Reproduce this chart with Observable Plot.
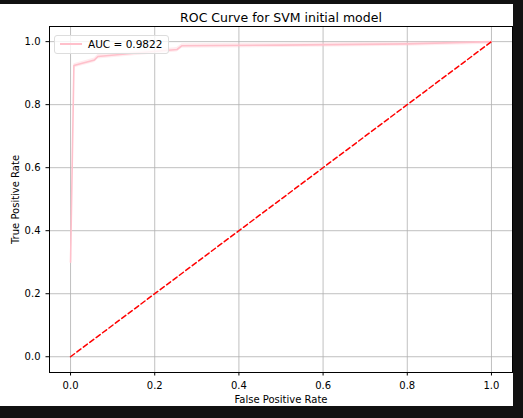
<!DOCTYPE html>
<html><head><meta charset="utf-8">
<script src="https://cdn.jsdelivr.net/npm/d3@7"></script>
<script src="https://cdn.jsdelivr.net/npm/@observablehq/plot@0.6"></script>
<style>
body{margin:0;background:#111;font-family:"DejaVu Sans",sans-serif;}
#wrap{position:relative;width:513px;height:406px;top:4px;background:#fff;}
#title{position:absolute;top:6px;left:49px;width:464px;text-align:center;font-size:12.5px;color:#000;}
#legend{position:absolute;left:54px;top:31px;border:1px solid #ddd;border-radius:3px;background:rgba(255,255,255,.8);font-size:10.5px;padding:2px 6px 3px 5px;display:flex;align-items:center;gap:6px;}
#legend span.l{display:inline-block;width:22px;height:2px;background:#ffc0cb;}
</style></head><body>
<div id="wrap"><div id="chart"></div><div id="title">ROC Curve for SVM initial model</div>
<div id="legend"><span class="l"></span><span>AUC = 0.9822</span></div></div>
<script>
const fpr = [0, 0.0, 0.008, 0.03, 0.057, 0.065, 0.15, 0.253, 0.265, 0.5, 0.8, 1.0];
const tpr = [0, 0.30, 0.924, 0.932, 0.942, 0.953, 0.963, 0.975, 0.987, 0.989, 0.993, 1.0];
const diag = [0, 1];
const roc = fpr.map((f, i) => ({f, t: tpr[i]})).slice(1);
const chart = Plot.plot({
  width: 513, height: 406,
  marginTop: 22, marginLeft: 49, marginRight: 1, marginBottom: 38,
  style: {fontFamily: "DejaVu Sans", fontSize: "10px", color: "#000", background: "#fff"},
  x: {domain: [-0.05, 1.05], ticks: [0, .2, .4, .6, .8, 1], tickFormat: d3.format(".1f"), tickSize: 3.5, label: "False Positive Rate", labelAnchor: "center", labelArrow: "none", labelOffset: 30},
  y: {domain: [-0.05, 1.048], ticks: [0, .2, .4, .6, .8, 1], tickFormat: d3.format(".1f"), tickSize: 3.5, label: "True Positive Rate", labelAnchor: "center", labelArrow: "none", labelOffset: 38},
  marks: [
    Plot.gridX([0, .2, .4, .6, .8, 1], {stroke: "#b0b0b0", strokeOpacity: 0.8}),
    Plot.gridY([0, .2, .4, .6, .8, 1], {stroke: "#b0b0b0", strokeOpacity: 0.8}),
    Plot.areaY(roc, {x: "f", y1: d => d.t - 0.008, y2: d => Math.min(1, d.t + 0.006), fill: "#ffc0cb", fillOpacity: 0.3}),
    Plot.line(roc, {x: "f", y: "t", stroke: "#ffc0cb", strokeWidth: 1.6}),
    Plot.line(diag, {x: d => d, y: d => d, stroke: "red", strokeWidth: 1.5, strokeDasharray: "5,3"}),
    Plot.frame({stroke: "#000", strokeWidth: 1})
  ]
});
document.getElementById("chart").append(chart);
</script></body></html>
